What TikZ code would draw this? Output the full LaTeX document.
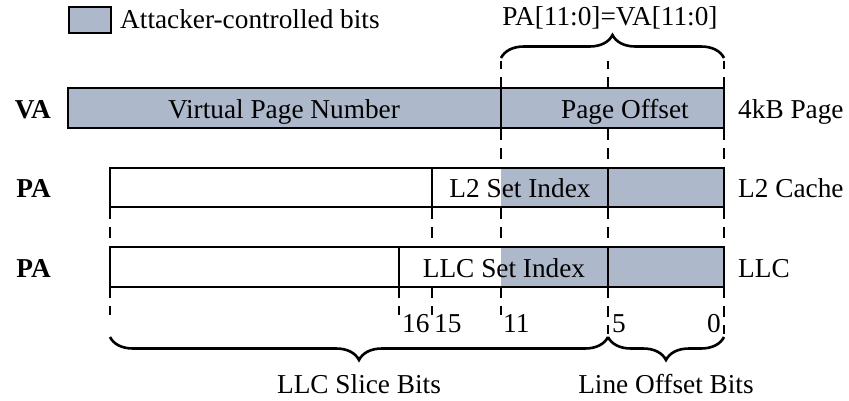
\documentclass[tikz,border=0pt]{standalone}
\usepackage{fontspec}
\setmainfont{Liberation Serif}
\usetikzlibrary{decorations.pathreplacing}
\definecolor{ctrl}{RGB}{173,185,203}
\begin{document}
\begin{tikzpicture}[x=1pt,y=-1pt,
  bar/.style={draw=black,line width=2.8pt},
  guide/.style={draw=black,line width=2.8pt,dash pattern=on 11pt off 8pt},
  txt/.style={font=\fontsize{27.3}{32}\selectfont,inner sep=0pt},
  brc/.style={draw=black,line width=2.6pt,decorate,decoration={brace,amplitude=23pt}}
]
\useasboundingbox (0,0) rectangle (849,400);

% legend
\draw[bar,fill=ctrl] (69,7) rectangle (111,33);
\node[txt,anchor=base west] (legend) at (120,28) {Attacker-controlled bits};

% bit boundaries (x positions)
\def\xa{68}\def\xb{110}\def\xc{399}\def\xd{432}\def\xe{501}\def\xf{608}\def\xg{724}

% VA bar
\coordinate (va-nw) at (\xa,88);
\coordinate (va-se) at (\xg,128);
\fill[ctrl] (va-nw) rectangle (va-se);
\draw[bar] (va-nw) rectangle (va-se);
\draw[bar] (\xe,88) -- (\xe,128);
\node[txt,anchor=base] (vpn) at (284,118) {Virtual Page Number};
\node[txt,anchor=base] (po) at (625,118) {Page Offset};

% L2 bar
\fill[ctrl] (\xe,168) rectangle (\xg,207);
\draw[bar] (\xb,168) rectangle (\xg,207);
\draw[bar] (\xd,168) -- (\xd,207);
\draw[bar] (\xf,168) -- (\xf,207);
\node[txt,anchor=base] (l2idx) at (520,197) {L2 Set Index};

% LLC bar
\fill[ctrl] (\xe,247) rectangle (\xg,287);
\draw[bar] (\xb,247) rectangle (\xg,287);
\draw[bar] (\xc,247) -- (\xc,287);
\draw[bar] (\xf,247) -- (\xf,287);
\node[txt,anchor=base] (llcidx) at (504,277) {LLC Set Index};

% row labels
\tikzset{rowlbl/.style={txt,anchor=base east,font=\fontsize{27.3}{32}\selectfont\bfseries}}
\node[rowlbl] (lva) at (51,118) {VA};
\node[rowlbl] (lpa1) at (51,197) {PA};
\node[rowlbl] (lpa2) at (51,277) {PA};
\node[txt,anchor=base west] (rva) at (738,118) {4kB Page};
\node[txt,anchor=base west] (rl2) at (738,197) {L2 Cache};
\node[txt,anchor=base west] (rllc) at (738,277) {LLC};

% dashed guides above VA
\foreach \x in {\xe,\xf,\xg} \draw[guide] (\x,88) -- (\x,61);
% between VA and L2
\foreach \x in {\xe,\xf,\xg} \draw[guide] (\x,129) -- (\x,168);
% between L2 and LLC
\foreach \x in {\xb,\xd,\xe,\xf,\xg} \draw[guide] (\x,208) -- (\x,247);
% below LLC
\foreach \x in {\xb,\xc,\xd,\xe} \draw[guide] (\x,287) -- (\x,315);
\foreach \x in {\xf,\xg} \draw[guide] (\x,287) -- (\x,334);

% bit numbers
\node[txt,anchor=base west] (b16) at (402,332) {16};
\node[txt,anchor=base west] (b15) at (434,332) {15};
\node[txt,anchor=base west] (b11) at (503,332) {11};
\node[txt,anchor=base west] (b5) at (612,332) {5};
\node[txt,anchor=base east] (b0) at (721,332) {0};

% braces
\coordinate (tb-l) at (\xe,58);
\coordinate (tb-r) at (\xg,58);
\draw[brc] (tb-l) -- (tb-r);
\node[txt,anchor=base] (pava) at (610,25) {PA[11:0]=VA[11:0]};

\coordinate (sb-l) at (\xb,337);
\coordinate (sb-m) at (\xf,337);
\coordinate (sb-r) at (\xg,337);
\draw[brc] (sb-m) -- (sb-l);
\draw[brc] (sb-r) -- (sb-m);
\node[txt,anchor=base] (slice) at (359,393) {LLC Slice Bits};
\node[txt,anchor=base] (lineoff) at (666,393) {Line Offset Bits};
\end{tikzpicture}
\end{document}
